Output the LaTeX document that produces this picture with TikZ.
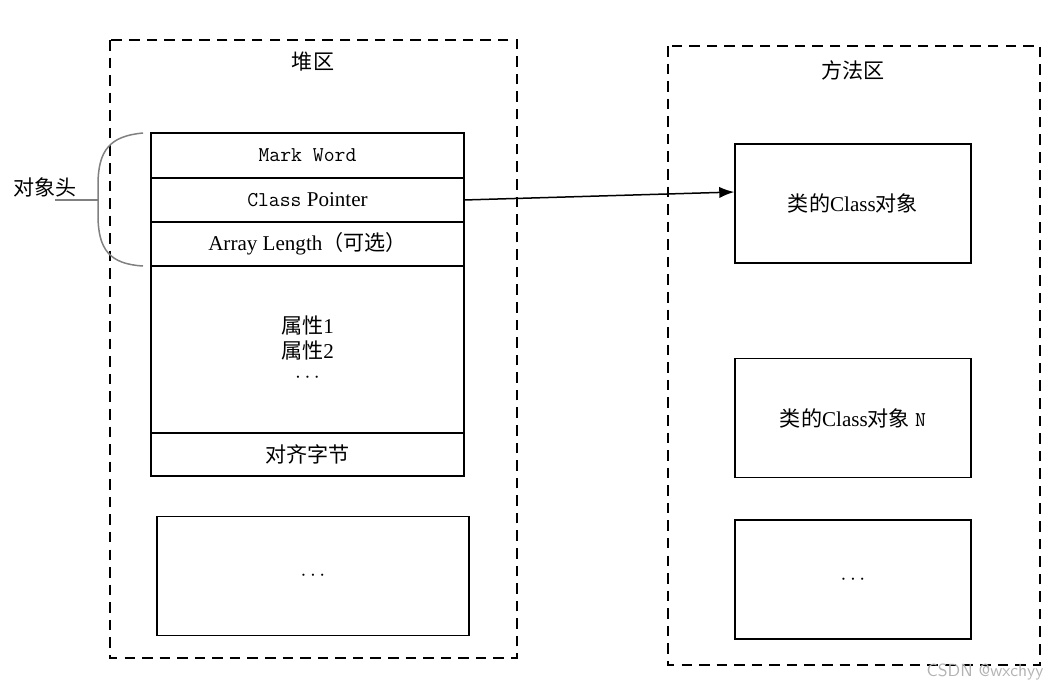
\documentclass[tikz,border=0pt]{standalone}
\usepackage{fontspec}
\setmainfont{Liberation Serif}
\newfontfamily\cjk{Noto Sans CJK SC}
\usetikzlibrary{positioning,arrows.meta}
\tikzset{
  area/.style={draw, dashed, line width=0.5mm, dash pattern=on 6pt off 4pt},
  row/.style={draw, line width=0.3mm, minimum width=6.26cm, inner sep=0pt, outer sep=0pt, font=\large},
  box/.style={draw, line width=0.3mm, minimum width=4.72cm, minimum height=2.38cm, font=\large},
}
\begin{document}
\begin{tikzpicture}[x=0.02cm, y=-0.02cm]
\useasboundingbox (0,0) rectangle (1059,691);
% areas
\draw[area] (110,40) rectangle (517,658);
\draw[area] (668,46) rectangle (1040,665);
\node (HeapLabel) at (313,62) {\cjk\large 堆区};
\node (MethodLabel) at (853,70) {\cjk\large 方法区};

% object layout
\node (Mark) [row, minimum height=0.9cm, anchor=north] at (307.5,133) {\ttfamily Mark Word};
\node (Pointer) [row, minimum height=0.88cm, below=0pt of Mark] {{\ttfamily Class} Pointer};
\node (Length) [row, minimum height=0.88cm, below=0pt of Pointer] {Array Length{\cjk（可选）}};
\node (Fields) [row, minimum height=3.34cm, below=0pt of Length, align=center]
  {{\cjk 属性}1\\{\cjk 属性}2\\$\cdots$};
\node (Padding) [row, minimum height=0.86cm, below=0pt of Fields] {\cjk 对齐字节};
\node (HeapMore) [box, minimum width=6.24cm] at (313,576) {$\cdots$};

% method area
\node (ClassObj) [box] at (853,203.5) {{\cjk 类的}Class{\cjk 对象}};
\node (ClassObjN) [box, below=1.88cm of ClassObj] {{\cjk 类的}Class{\cjk 对象} {\ttfamily N}};
\node (MethodMore) [box, below=0.82cm of ClassObjN] {$\cdots$};

\draw[-{Latex[length=3mm]}, line width=0.3mm] (Pointer.east) -- (ClassObj.west |- 0,192);

% header brace
\coordinate (BraceTip) at (98,200);
\draw[gray, line width=0.3mm] (Mark.north west) ++(-8,0) .. controls (110,136) and (98,150) .. (98,185) -- (BraceTip)
  -- (98,215) .. controls (98,250) and (110,264) .. (143,266);
\node (Header) at (45,187) {\cjk\large 对象头};
\draw[gray, line width=0.3mm] (55,200) -- (BraceTip);

\node[gray!60, font=\sffamily] at (985,672) {CSDN @wxchyy};
\end{tikzpicture}
\end{document}
